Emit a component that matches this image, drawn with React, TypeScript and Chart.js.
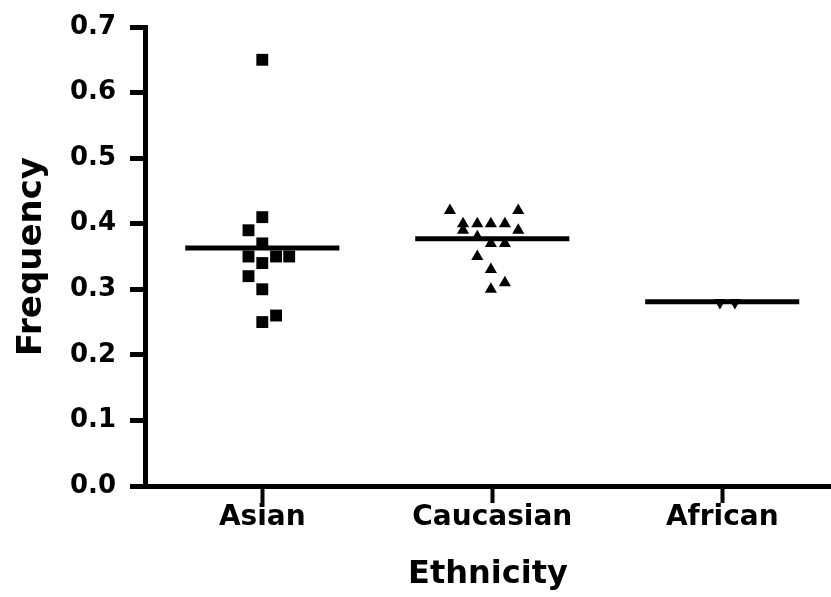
import { useEffect, useRef } from "react";
import { Chart, registerables } from "chart.js";

Chart.register(...registerables);

// ---- data ----
const categories = ["Asian", "Caucasian", "African"];
const yTickValues = [0, 0.1, 0.2, 0.3, 0.4, 0.5, 0.6, 0.7];

const asianValues = [0.65, 0.41, 0.39, 0.37, 0.35, 0.35, 0.35, 0.34, 0.32, 0.3, 0.26, 0.25];
const asianJitter = [0, 0, -0.06, 0, -0.06, 0.06, 0.117, 0, -0.06, 0, 0.06, 0];

const caucasianValues = [0.42, 0.42, 0.4, 0.4, 0.4, 0.4, 0.39, 0.39, 0.38, 0.37, 0.37, 0.35, 0.33, 0.31, 0.3];
const caucasianJitter = [-0.184, 0.113, -0.127, -0.065, -0.006, 0.055, -0.127, 0.113, -0.065, -0.006, 0.055, -0.065, -0.006, 0.055, -0.006];

const africanValues = [0.28, 0.28];
const africanJitter = [-0.01, 0.055];

const meanValues = [0.363, 0.377, 0.281];

// ---- styling constants ----
const MEAN_HALF_WIDTH = 0.335;
const FONT = "'DejaVu Sans', 'Liberation Sans', Arial, sans-serif";

export default function App() {
  const ref = useRef<HTMLCanvasElement>(null);

  useEffect(() => {
    if (!ref.current) return;
    const pts = (vals: number[], offs: number[], idx: number) =>
      vals.map((v, i) => ({ x: idx + offs[i], y: v }));
    const meanLine = (idx: number) => [
      { x: idx - MEAN_HALF_WIDTH, y: meanValues[idx] },
      { x: idx + MEAN_HALF_WIDTH, y: meanValues[idx] },
    ];

    const chart = new Chart(ref.current, {
      type: "scatter",
      data: {
        datasets: [
          {
            data: pts(asianValues, asianJitter, 0),
            pointStyle: "rect",
            pointRadius: 8.4,
            pointBorderWidth: 0,
            backgroundColor: "#000",
            borderColor: "#000",
          },
          {
            data: pts(caucasianValues, caucasianJitter, 1),
            pointStyle: "triangle",
            pointRadius: 7,
            pointBorderWidth: 0,
            backgroundColor: "#000",
            borderColor: "#000",
          },
          {
            data: pts(africanValues, africanJitter, 2),
            pointStyle: "triangle",
            pointRotation: 180,
            pointRadius: 7,
            pointBorderWidth: 0,
            backgroundColor: "#000",
            borderColor: "#000",
          },
          ...categories.map((_, i) => ({
            data: meanLine(i),
            showLine: true,
            borderColor: "#000",
            borderWidth: 5,
            borderCapStyle: "butt" as const,
            pointRadius: 0,
          })),
        ],
      },
      options: {
        animation: false,
        responsive: true,
        maintainAspectRatio: false,
        layout: { autoPadding: false, padding: { top: 27, left: 0, right: 0, bottom: 0 } },
        plugins: { legend: { display: false }, tooltip: { enabled: false } },
        scales: {
          x: {
            type: "linear",
            min: -0.51,
            max: 2.473,
            afterBuildTicks: (s: any) => {
              s.ticks = categories.map((_, i) => ({ value: i }));
            },
            afterFit: (s: any) => {
              s.height = 111;
              s.paddingLeft = 0;
              s.paddingRight = 0;
            },
            ticks: {
              callback: (v: any) => categories[Math.round(Number(v))] ?? "",
              font: { family: FONT, size: 28, weight: "bold" },
              color: "#000",
              padding: -2,
              autoSkip: false,
              maxRotation: 0,
            },
            grid: {
              drawOnChartArea: false,
              drawTicks: true,
              tickLength: 17,
              tickWidth: 4,
              tickColor: "#000",
            },
            border: { display: true, color: "#000", width: 5 },
            title: {
              display: true,
              text: "Ethnicity",
              color: "#000",
              font: { family: FONT, size: 32, weight: "bold" },
              padding: { top: 0, bottom: 3 },
            },
          },
          y: {
            type: "linear",
            min: 0,
            max: 0.7,
            afterBuildTicks: (s: any) => {
              s.ticks = yTickValues.map((v) => ({ value: v }));
            },
            afterFit: (s: any) => {
              s.width = 145;
              s.paddingTop = 0;
              s.paddingBottom = 0;
            },
            ticks: {
              callback: (v: any) => Number(v).toFixed(1),
              font: { family: FONT, size: 26, weight: "bold" },
              color: "#000",
              padding: 14,
            },
            grid: {
              drawOnChartArea: false,
              drawTicks: true,
              tickLength: 15,
              tickWidth: 5,
              tickColor: "#000",
            },
            border: { display: true, color: "#000", width: 5 },
            title: {
              display: true,
              text: "Frequency",
              color: "#000",
              font: { family: FONT, size: 34, weight: "bold" },
              padding: { top: 12, bottom: 0 },
            },
          },
        },
      },
    });
    return () => chart.destroy();
  }, []);

  return (
    <div style={{ position: "fixed", left: 0, top: 0, width: 831, height: 597, background: "#fff" }}>
      <canvas ref={ref} />
    </div>
  );
}
